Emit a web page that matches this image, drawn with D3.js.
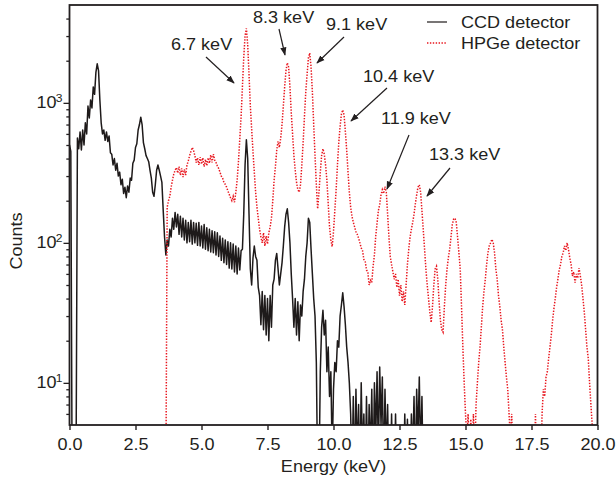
<!DOCTYPE html>
<html><head><meta charset="utf-8">
<script src="https://cdn.jsdelivr.net/npm/d3@7"></script>
<style>
body{margin:0;background:#fff}
text{font-family:"Liberation Sans",Arial,Helvetica,sans-serif;fill:#231f20}
</style>
</head><body>
<svg id="chart" width="616" height="488"></svg>
<script>
// ---------------- data ----------------
const energyStep = 0.05;          // keV between samples
const ccdStart = 0.0;             // keV of first CCD sample
const ccdCounts = [
  500, 450, 2, 2, 2, 3, 560, 470, 620, 460, 640, 500, 720, 600, 950, 780, 1050, 920, 1300, 1150,
  1650, 1900, 1700, 1050, 720, 600, 640, 540, 620, 530, 580, 440, 430, 360, 400, 330, 370, 300, 320, 260,
  285, 225, 250, 210, 255, 230, 290, 280, 370, 390, 480, 510, 640, 700, 790, 700, 520, 470, 420, 400,
  380, 330, 290, 230, 215, 260, 330, 360, 330, 300, 270, 170, 110, 82, 105, 95, 125, 110, 150, 125,
  165, 130, 160, 115, 155, 110, 150, 105, 145, 100, 140, 102, 145, 98, 140, 100, 138, 96, 140, 95,
  132, 92, 135, 90, 128, 88, 125, 86, 122, 85, 120, 82, 118, 80, 112, 75, 108, 72, 105, 70,
  102, 66, 100, 65, 98, 62, 95, 60, 92, 64, 88, 90, 160, 360, 545, 400, 160, 65, 50, 78,
  95, 80, 75, 48, 42, 26, 45, 24, 42, 22, 40, 20, 42, 25, 50, 55, 75, 84, 65, 50,
  60, 72, 95, 130, 160, 175, 140, 100, 60, 40, 25, 40, 22, 38, 20, 36, 30, 45, 55, 80,
  100, 150, 140, 90, 60, 40, 30, 14, 2, 2, 12, 25, 33, 22, 28, 12, 18, 8, 12, 3,
  9, 14, 12, 20, 18, 30, 36, 44, 35, 26, 18, 14, 10, 6, 2, 8, 2, 9, 3, 7,
  2, 10, 3, 6, 2, 8, 2, 7, 3, 9, 2, 10, 4, 12, 3, 13, 5, 11, 2, 9,
  3, 7, 2, 2, 6, 2, 2, 6, 2, 2, 2, 2, 2, 2, 6, 2, 5.5, 2, 2, 6,
  3, 8, 2, 9, 4, 11, 3, 8, 2
];
const hpgeStart = 3.6;            // keV of first HPGe sample
const hpgeCounts = [
  2, 2, 180, 200, 215, 250, 280, 310,
  330, 345, 315, 350, 305, 340, 295, 335, 305, 360, 385, 420, 450, 480, 455, 420, 375, 405, 360, 410,
  365, 405, 350, 395, 355, 405, 370, 425, 375, 430, 390, 375, 355, 340, 320, 300, 290, 270, 262, 250,
  235, 222, 210, 200, 215, 195, 230, 280, 380, 550, 800, 1300, 2100, 3000, 3400, 2600, 1600, 950, 650, 450,
  320, 230, 180, 150, 125, 110, 100, 118, 95, 112, 98, 118, 130, 150, 200, 280, 350, 460, 530, 480,
  560, 700, 950, 1300, 1700, 1930, 1800, 1300, 850, 600, 420, 330, 270, 240, 230, 260, 360, 520, 800, 1200,
  1600, 2100, 2270, 1800, 1200, 700, 420, 260, 175, 230, 320, 420, 470, 430, 360, 280, 190, 130, 105, 94,
  120, 170, 240, 360, 520, 680, 830, 890, 820, 620, 460, 320, 230, 180, 155, 140, 130, 120, 115, 108,
  100, 92, 88, 76, 74, 64, 62, 50, 54, 52, 68, 82, 112, 138, 170, 188, 220, 240, 225, 252,
  230, 160, 110, 80, 70, 62, 55, 60, 48, 55, 42, 50, 38, 45, 36, 50, 70, 90, 110, 125,
  140, 160, 190, 220, 250, 260, 230, 170, 124, 90, 65, 50, 40, 32, 27, 35, 50, 65, 68, 55,
  38, 28, 24, 23, 35, 50, 65, 78, 90, 110, 135, 148, 150, 140, 110, 85, 65, 35, 18, 10,
  6, 4, 6, 3, 5.5, 3, 6, 3, 7, 10, 14, 18, 25, 35, 45, 55, 70, 85, 95, 100,
  106, 100, 85, 65, 55, 42, 35, 28, 24, 18, 14, 11, 9, 6, 4, 6, 3, 2, 2, 2,
  2, 2, 2, 2, 2, 2, 2, 2, 2, 2, 2, 2, 2, 6, 2, 2, 2, 2, 6, 9,
  8, 11, 12, 15, 18, 22, 28, 34, 40, 48, 55, 64, 70, 80, 85, 95, 88, 100, 90, 78,
  70, 58, 62, 52, 60, 56, 66, 58, 50, 40, 32, 24, 18, 15, 10, 7, 5, 2, 2, 2
];
const xTickValues = [0, 2.5, 5, 7.5, 10, 12.5, 15, 17.5, 20];
const yMajorTicks = [10, 100, 1000];
const yMinorTicks = [6, 7, 8, 9, 20, 30, 40, 50, 60, 70, 80, 90, 200, 300, 400, 500, 600, 700, 800, 900, 2000, 3000, 4000];
const yExponents = ["1", "2", "3"];
const seriesNames = ["CCD detector", "HPGe detector"];
const peakLabels = ["6.7 keV", "8.3 keV", "9.1 keV", "10.4 keV", "11.9 keV", "13.3 keV"];

// ---------------- layout ----------------
const L = 69.5, R = 597.5, T = 5, B = 425;
const SX = 1.15;   // horizontal text stretch
const ink = "#231f20";
const svg = d3.select("#chart");
const x = d3.scaleLinear().domain([0, 20]).range([L, R]);
const y = d3.scaleLog().domain([5, 5000]).range([B, T]);

function txt(g, tx, ty, s, size, anchor, rot) {
  return g.append("text")
    .attr("transform", `translate(${tx},${ty})` + (rot ? ` rotate(${rot})` : "") + ` scale(${SX},1)`)
    .attr("font-size", size).attr("text-anchor", anchor || "start").text(s);
}

const ccd = ccdCounts.map((c, i) => ({e: ccdStart + i * energyStep, c}));
const hpge = hpgeCounts.map((c, i) => ({e: hpgeStart + i * energyStep, c}));

svg.append("defs").append("clipPath").attr("id", "plot")
  .append("rect").attr("x", L).attr("y", T).attr("width", R - L).attr("height", B - T);
const marker = svg.select("defs").append("marker").attr("id", "arr")
  .attr("viewBox", "0 0 10 10").attr("refX", 9).attr("refY", 5)
  .attr("markerWidth", 7).attr("markerHeight", 7).attr("orient", "auto")
  .attr("markerUnits", "strokeWidth");
marker.append("path").attr("d", "M0,1.3 L10,5 L0,8.7 Z").attr("fill", ink);

const line = d3.line().x(d => x(d.e)).y(d => y(d.c));
const plot = svg.append("g").attr("clip-path", "url(#plot)");
plot.append("path").datum(ccd).attr("d", line)
  .attr("fill", "none").attr("stroke", "#1e1a1a").attr("stroke-width", 1.5).attr("stroke-linejoin", "round");
plot.append("path").datum(hpge).attr("d", line)
  .attr("fill", "none").attr("stroke", "#e8151d").attr("stroke-width", 1.5)
  .attr("stroke-dasharray", "1.4,1.5");

// x axis
const xg = svg.append("g").attr("transform", `translate(0,${B})`)
  .call(d3.axisBottom(x).tickValues(xTickValues).tickSize(5).tickPadding(9).tickFormat(d3.format(".1f")));
xg.select(".domain").remove();
xg.selectAll(".tick line").attr("stroke", ink).attr("stroke-width", 1.4);
xg.selectAll(".tick text").attr("font-size", 15.7).attr("fill", ink)
  .attr("font-family", '"Liberation Sans",Arial,sans-serif').attr("transform", `scale(${SX},1)`);

// y axis
const yg = svg.append("g").attr("transform", `translate(${L},0)`)
  .call(d3.axisLeft(y).tickValues(yMajorTicks.concat(yMinorTicks)).tickSize(6).tickFormat(""));
yg.select(".domain").remove();
yg.selectAll(".tick line").attr("stroke", ink).attr("stroke-width", 1.3)
  .attr("x2", d => yMajorTicks.includes(d) ? -6 : -3.2);
yMajorTicks.forEach((v, i) => {
  txt(svg, 56.5, y(v) + 5.6, "10", 15.7, "end");
  txt(svg, 55.8, y(v) - 1.2, yExponents[i], 10.5, "start");
});

// frame
svg.append("rect").attr("x", L).attr("y", T).attr("width", R - L).attr("height", B - T)
  .attr("fill", "none").attr("stroke", ink).attr("stroke-width", 1.8);

// axis titles
txt(svg, (L + R) / 2, 472, "Energy (keV)", 15.7, "middle");
txt(svg, 21.5, 241, "Counts", 15.7, "middle", -90);

// legend
const lg = svg.append("g");
lg.append("line").attr("x1", 427).attr("x2", 447).attr("y1", 22).attr("y2", 22)
  .attr("stroke", "#1e1a1a").attr("stroke-width", 1.2);
lg.append("line").attr("x1", 427).attr("x2", 447).attr("y1", 43).attr("y2", 43)
  .attr("stroke", "#e8151d").attr("stroke-width", 1.5).attr("stroke-dasharray", "1.4,1.5");
txt(lg, 461, 27.5, seriesNames[0], 15.7, "start");
txt(lg, 461, 48.5, seriesNames[1], 15.7, "start");

// peak annotations (label position and arrow in pixels)
const annot = [
  {tx: 171, ty: 50, a: [206, 57, 234, 83]},
  {tx: 253, ty: 23, a: [279, 29, 285, 55]},
  {tx: 326, ty: 30, a: [344, 37, 317, 63]},
  {tx: 363, ty: 82, a: [387, 88, 351, 121]},
  {tx: 381, ty: 124, a: [409, 135, 387, 189]},
  {tx: 429, ty: 160, a: [450, 168, 427, 196]}
];
const ag = svg.append("g");
annot.forEach((d, i) => {
  txt(ag, d.tx, d.ty, peakLabels[i], 15.7, "start");
  ag.append("line").attr("x1", d.a[0]).attr("y1", d.a[1]).attr("x2", d.a[2]).attr("y2", d.a[3])
    .attr("stroke", ink).attr("stroke-width", 1.2).attr("marker-end", "url(#arr)");
});
</script>
</body></html>
